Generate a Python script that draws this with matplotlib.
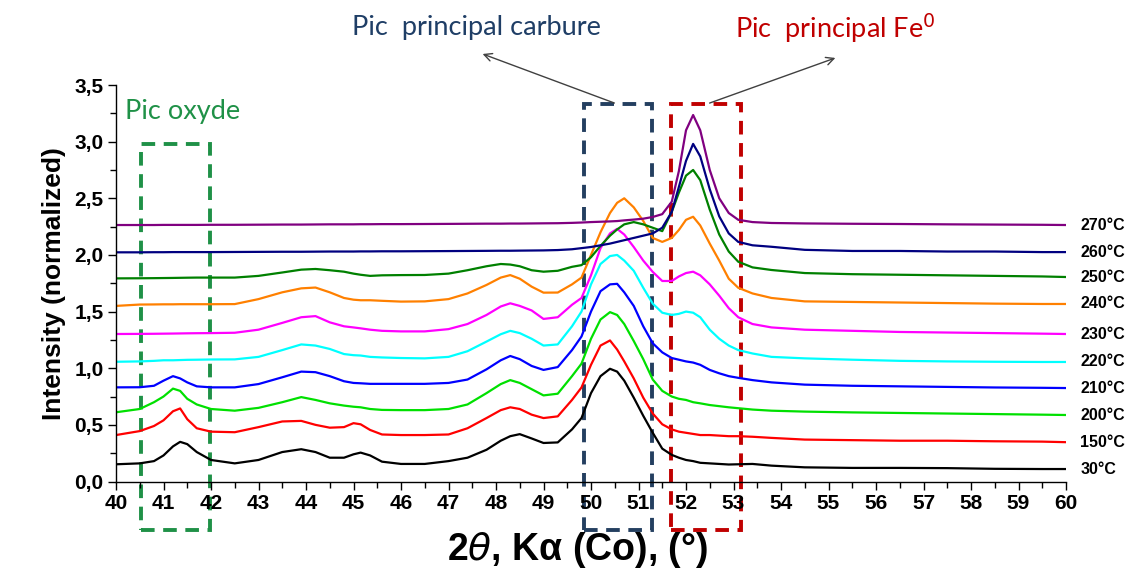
import matplotlib
matplotlib.use('Agg')
import matplotlib.pyplot as plt
from matplotlib.patches import Rectangle
from matplotlib.ticker import MultipleLocator, FuncFormatter

two_theta = [40.0, 40.5, 40.8, 41.0, 41.2, 41.35, 41.5, 41.7, 42.0, 42.5,
             43.0, 43.5, 43.9, 44.2, 44.5, 44.8, 45.0, 45.15, 45.35, 45.6,
             46.0, 46.5, 47.0, 47.4, 47.8, 48.1, 48.3, 48.5, 48.75, 49.0,
             49.3, 49.6, 49.8, 50.0, 50.2, 50.4, 50.55, 50.7, 50.9, 51.1,
             51.3, 51.5, 51.7, 51.85, 52.0, 52.15, 52.3, 52.5, 52.7, 52.9,
             53.1, 53.4, 53.8, 54.5, 55.5, 56.5, 57.5, 58.5, 59.5, 60.0]

i_30 = [0.152, 0.160, 0.180, 0.230, 0.310, 0.350, 0.330, 0.260, 0.190, 0.160,
        0.190, 0.260, 0.285, 0.260, 0.210, 0.210, 0.240, 0.255, 0.230, 0.175,
        0.155, 0.155, 0.180, 0.210, 0.280, 0.360, 0.400, 0.418, 0.380, 0.340,
        0.345, 0.460, 0.560, 0.780, 0.930, 0.995, 0.970, 0.890, 0.740, 0.580,
        0.430, 0.290, 0.235, 0.210, 0.190, 0.180, 0.165, 0.160, 0.155, 0.150,
        0.152, 0.155, 0.140, 0.125, 0.120, 0.120, 0.118, 0.112, 0.110, 0.110]
i_150 = [0.410, 0.445, 0.490, 0.540, 0.620, 0.645, 0.550, 0.470, 0.440, 0.435,
         0.480, 0.530, 0.535, 0.500, 0.475, 0.480, 0.515, 0.505, 0.455, 0.415,
         0.410, 0.410, 0.415, 0.470, 0.560, 0.630, 0.655, 0.640, 0.590, 0.560,
         0.575, 0.720, 0.830, 1.030, 1.200, 1.245, 1.165, 1.060, 0.910, 0.740,
         0.600, 0.505, 0.460, 0.440, 0.430, 0.420, 0.410, 0.410, 0.405, 0.400,
         0.400, 0.395, 0.385, 0.370, 0.365, 0.360, 0.360, 0.355, 0.352, 0.347]
i_200 = [0.611, 0.640, 0.700, 0.750, 0.820, 0.800, 0.730, 0.680, 0.640, 0.625,
         0.650, 0.700, 0.745, 0.720, 0.690, 0.670, 0.660, 0.655, 0.640, 0.632,
         0.630, 0.630, 0.640, 0.680, 0.780, 0.860, 0.895, 0.870, 0.815, 0.760,
         0.775, 0.930, 1.040, 1.260, 1.430, 1.495, 1.470, 1.390, 1.240, 1.080,
         0.900, 0.800, 0.750, 0.730, 0.720, 0.700, 0.690, 0.675, 0.665, 0.655,
         0.647, 0.635, 0.625, 0.617, 0.610, 0.605, 0.600, 0.595, 0.590, 0.587]
i_210 = [0.831, 0.832, 0.845, 0.890, 0.930, 0.910, 0.875, 0.840, 0.831, 0.831,
         0.860, 0.920, 0.970, 0.965, 0.930, 0.885, 0.870, 0.867, 0.862, 0.862,
         0.862, 0.862, 0.870, 0.900, 0.990, 1.070, 1.108, 1.080, 1.020, 0.985,
         1.010, 1.160, 1.280, 1.500, 1.680, 1.740, 1.745, 1.670, 1.550, 1.370,
         1.220, 1.140, 1.090, 1.075, 1.060, 1.050, 1.030, 0.985, 0.955, 0.930,
         0.915, 0.895, 0.875, 0.855, 0.845, 0.840, 0.835, 0.830, 0.827, 0.825]
i_220 = [1.057, 1.060, 1.065, 1.070, 1.070, 1.072, 1.074, 1.075, 1.077, 1.078,
         1.100, 1.160, 1.210, 1.200, 1.170, 1.125, 1.115, 1.112, 1.100, 1.095,
         1.090, 1.087, 1.100, 1.150, 1.235, 1.300, 1.330, 1.310, 1.260, 1.200,
         1.210, 1.370, 1.500, 1.740, 1.920, 1.990, 2.000, 1.950, 1.860, 1.710,
         1.570, 1.490, 1.470, 1.480, 1.500, 1.490, 1.450, 1.340, 1.260, 1.200,
         1.160, 1.130, 1.100, 1.087, 1.075, 1.065, 1.060, 1.057, 1.055, 1.055]
i_230 = [1.302, 1.303, 1.304, 1.305, 1.306, 1.307, 1.308, 1.309, 1.310, 1.313,
         1.340, 1.400, 1.450, 1.460, 1.405, 1.370, 1.360, 1.352, 1.340, 1.330,
         1.325, 1.325, 1.345, 1.390, 1.470, 1.545, 1.573, 1.550, 1.510, 1.435,
         1.450, 1.560, 1.620, 1.820, 2.060, 2.190, 2.230, 2.180, 2.070, 1.950,
         1.850, 1.770, 1.770, 1.810, 1.840, 1.852, 1.820, 1.740, 1.640, 1.530,
         1.450, 1.390, 1.360, 1.340, 1.330, 1.320, 1.315, 1.310, 1.305, 1.302]
i_240 = [1.550, 1.562, 1.563, 1.564, 1.564, 1.565, 1.565, 1.565, 1.565, 1.566,
         1.610, 1.670, 1.705, 1.712, 1.670, 1.620, 1.605, 1.600, 1.600, 1.595,
         1.588, 1.590, 1.610, 1.660, 1.735, 1.800, 1.822, 1.790, 1.720, 1.667,
         1.668, 1.740, 1.800, 2.000, 2.200, 2.370, 2.460, 2.500, 2.420, 2.300,
         2.150, 2.115, 2.150, 2.220, 2.310, 2.337, 2.260, 2.100, 1.950, 1.790,
         1.710, 1.660, 1.620, 1.590, 1.585, 1.580, 1.575, 1.570, 1.567, 1.567]
i_250 = [1.793, 1.794, 1.795, 1.796, 1.797, 1.798, 1.799, 1.800, 1.800, 1.800,
         1.815, 1.845, 1.870, 1.876, 1.865, 1.852, 1.835, 1.825, 1.815, 1.820,
         1.822, 1.823, 1.835, 1.865, 1.900, 1.920, 1.915, 1.900, 1.865, 1.852,
         1.860, 1.895, 1.910, 1.980, 2.080, 2.170, 2.225, 2.270, 2.290, 2.270,
         2.240, 2.210, 2.380, 2.550, 2.700, 2.750, 2.660, 2.400, 2.180, 2.030,
         1.940, 1.890, 1.867, 1.840, 1.830, 1.825, 1.820, 1.815, 1.810, 1.805]
i_260 = [2.023, 2.023, 2.024, 2.024, 2.025, 2.025, 2.025, 2.025, 2.025, 2.026,
         2.027, 2.028, 2.028, 2.029, 2.030, 2.030, 2.030, 2.031, 2.031, 2.032,
         2.032, 2.033, 2.034, 2.035, 2.036, 2.037, 2.037, 2.038, 2.039, 2.040,
         2.043, 2.050, 2.060, 2.070, 2.085, 2.100, 2.115, 2.130, 2.150, 2.170,
         2.190, 2.240, 2.380, 2.600, 2.830, 2.980, 2.870, 2.580, 2.340, 2.190,
         2.115, 2.085, 2.072, 2.045, 2.035, 2.035, 2.030, 2.030, 2.025, 2.025]
i_270 = [2.264, 2.264, 2.264, 2.265, 2.265, 2.265, 2.265, 2.265, 2.266, 2.266,
         2.267, 2.268, 2.268, 2.269, 2.270, 2.270, 2.270, 2.271, 2.271, 2.272,
         2.272, 2.273, 2.274, 2.275, 2.276, 2.276, 2.277, 2.277, 2.278, 2.279,
         2.280, 2.283, 2.286, 2.290, 2.293, 2.296, 2.299, 2.305, 2.312, 2.320,
         2.335, 2.360, 2.470, 2.740, 3.100, 3.235, 3.100, 2.750, 2.500, 2.370,
         2.310, 2.290, 2.282, 2.278, 2.275, 2.273, 2.270, 2.268, 2.266, 2.264]

series = [i_30, i_150, i_200, i_210, i_220, i_230, i_240, i_250, i_260, i_270]
temp_labels = ['30°C', '150°C', '200°C', '210°C', '220°C', '230°C',
               '240°C', '250°C', '260°C', '270°C']
colors = ['#000000', '#ff0000', '#00e000', '#0000ff', '#00ffff', '#ff00ff',
          '#ff8000', '#008000', '#000080', '#800080']

W, H = 1134, 577
fig = plt.figure(figsize=(W / 100, H / 100), dpi=100)
ax = fig.add_axes([116 / W, 1 - 481.5 / H, 950 / W, 396.5 / H])

for vals, col in zip(series, colors):
    ax.plot(two_theta, vals, color=col, lw=1.6, solid_joinstyle='round')

for vals, lab in zip(series, temp_labels):
    ax.text(60.3, vals[-1], lab, fontsize=11.5, fontweight='bold',
            family='Liberation Sans', va='center', ha='left', clip_on=False)

ax.set_xlim(40, 60)
ax.set_ylim(0, 3.5)
for s in ['top', 'right']:
    ax.spines[s].set_visible(False)
for s in ['left', 'bottom']:
    ax.spines[s].set_linewidth(1.0)
ax.xaxis.set_major_locator(MultipleLocator(1))
ax.xaxis.set_minor_locator(MultipleLocator(0.5))
ax.yaxis.set_major_locator(MultipleLocator(0.5))
ax.yaxis.set_minor_locator(MultipleLocator(0.25))
ax.yaxis.set_major_formatter(FuncFormatter(lambda v, p: f'{v:.1f}'.replace('.', ',')))
ax.xaxis.set_major_formatter(FuncFormatter(lambda v, p: f'{v:.0f}'))
ax.tick_params(which='major', length=6, width=1, direction='out', pad=3)
ax.tick_params(which='minor', length=4, width=1, direction='out')
for lab in ax.get_xticklabels() + ax.get_yticklabels():
    lab.set_fontfamily('Liberation Sans')
    lab.set_fontweight('bold')
    lab.set_fontsize(15)

ax.set_ylabel('Intensity (normalized)', fontsize=19, fontweight='bold',
              family='Liberation Sans', labelpad=6)
fig.text(578 / W, 1 - 550 / H, '2$\\it{\\theta}$, K\u03b1 (Co), (°)', fontsize=27,
         fontweight='bold', family='Liberation Sans', ha='center', va='center')

# dashed boxes
box_style = dict(fill=False, lw=2.8, linestyle=(0, (3.5, 2.2)), clip_on=False)
ax.add_patch(Rectangle((40.52, -0.43), 1.46, 3.41, edgecolor='#1f9147', **box_style))
ax.add_patch(Rectangle((49.85, -0.43), 1.43, 3.76, edgecolor='#243f60', **box_style))
ax.add_patch(Rectangle((51.68, -0.43), 1.48, 3.76, edgecolor='#c00000', **box_style))

# annotation texts
fig.text(183 / W, 1 - 112 / H, 'Pic oxyde', color='#1f9147', fontsize=19.5,
         family='Lato', ha='center', va='center')
fig.text(476 / W, 1 - 28 / H, 'Pic  principal carbure', color='#1f3e66', fontsize=19.5,
         family='Lato', ha='center', va='center')
fig.text(735 / W, 1 - 28 / H, 'Pic  principal Fe$^{0}$', color='#c00000', fontsize=19.5,
         family='Lato', ha='left', va='center')

arrow = dict(arrowstyle='->', color='#404040', lw=1.0, mutation_scale=14)
ax.annotate('', xy=(480, H - 53), xycoords='figure pixels',
            xytext=(617, H - 104), textcoords='figure pixels', arrowprops=arrow,
            annotation_clip=False)
ax.annotate('', xy=(838, H - 57), xycoords='figure pixels',
            xytext=(707, H - 104), textcoords='figure pixels', arrowprops=arrow,
            annotation_clip=False)

fig.savefig('out.png', dpi=100)
